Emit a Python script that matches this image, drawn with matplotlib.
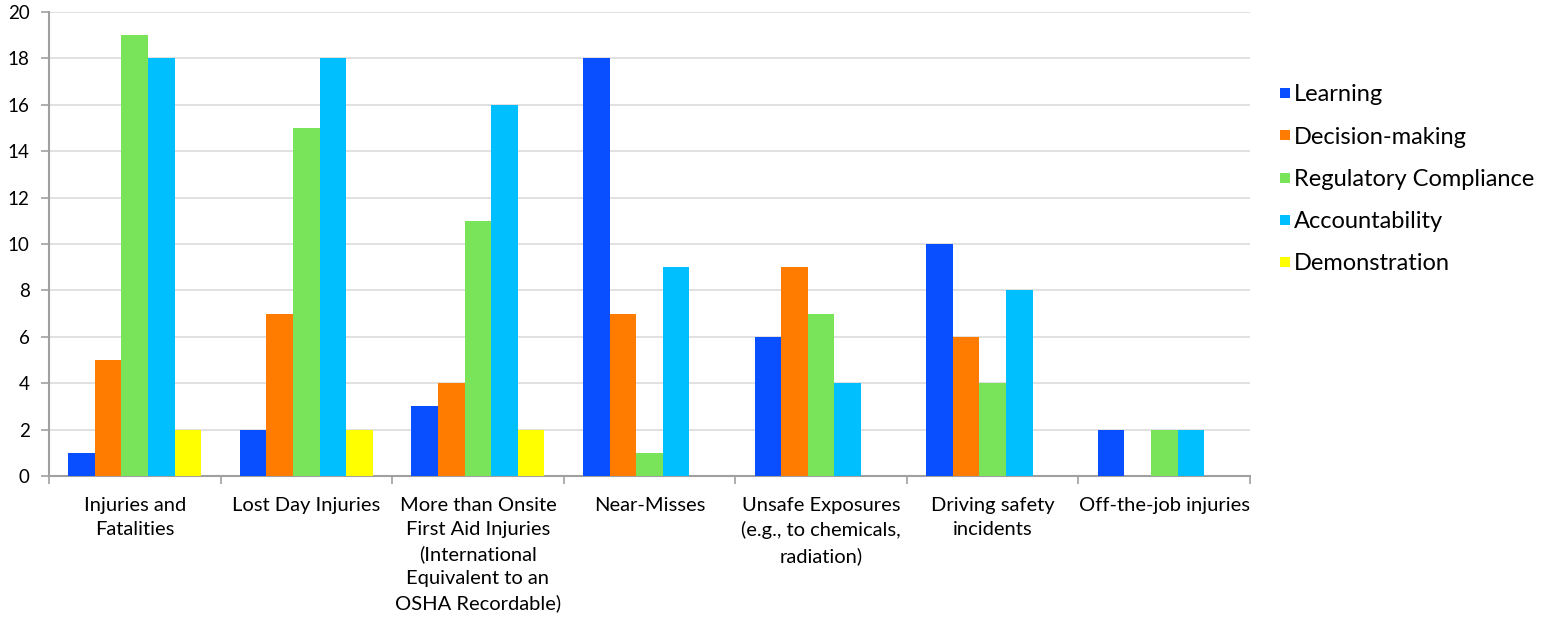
import numpy as np
import matplotlib.pyplot as plt
from matplotlib.lines import Line2D

plt.rcParams['font.family'] = ['Lato', 'DejaVu Sans']

categories = [
    'Injuries and\nFatalities',
    'Lost Day Injuries',
    'More than Onsite\nFirst Aid Injuries\n(International\nEquivalent to an\nOSHA Recordable)',
    'Near-Misses',
    'Unsafe Exposures\n(e.g., to chemicals,\nradiation)',
    'Driving safety\nincidents',
    'Off-the-job injuries',
]
series = ['Learning', 'Decision-making', 'Regulatory Compliance', 'Accountability', 'Demonstration']
learning = [1, 2, 3, 18, 6, 10, 2]
decision = [5, 7, 4, 7, 9, 6, 0]
regulatory = [19, 15, 11, 1, 7, 4, 2]
accountability = [18, 18, 16, 9, 4, 8, 2]
demonstration = [2, 2, 2, 0, 0, 0, 0]
colors = ['#0a4fff', '#ff7c00', '#79e35a', '#00bfff', '#ffff00']

values = [learning, decision, regulatory, accountability, demonstration]

fig = plt.figure(figsize=(15.54, 6.2), dpi=100)
ax = fig.add_axes([49 / 1554, 1 - 476 / 620, 1201 / 1554, 464 / 620])

x = np.arange(len(categories))
w = 0.155
for i, (vals, c) in enumerate(zip(values, colors)):
    ax.bar(x + (i - 2) * w, vals, width=w, color=c, zorder=3)

ax.set_xlim(-0.5, len(categories) - 0.5)
ax.set_ylim(0, 20)
ax.set_yticks(range(0, 21, 2))
ax.grid(axis='y', color='#dcdcdc', linewidth=1.2, zorder=0)

# category boundaries get the tick marks, labels sit in between
ax.set_xticks(np.arange(-0.5, len(categories), 1))
ax.set_xticklabels([])
ax.set_xticks(x, minor=True)
ax.set_xticklabels(categories, minor=True, fontsize=14.5, linespacing=1.5, va='top')
ax.tick_params(axis='x', which='minor', length=0, pad=15)
ax.tick_params(axis='x', which='major', length=6, color='#a0a0a0', width=1.2)
ax.tick_params(axis='y', length=6, color='#a0a0a0', width=1.2, labelsize=13.5, pad=8)

for side in ['top', 'right']:
    ax.spines[side].set_visible(False)
for side in ['left', 'bottom']:
    ax.spines[side].set_color('#a0a0a0')
    ax.spines[side].set_linewidth(1.5)

handles = [Line2D([], [], marker='s', linestyle='none', markersize=7,
                  markerfacecolor=c, markeredgewidth=0) for c in colors]
fig.legend(handles, series, loc='upper left', bbox_to_anchor=(1268 / 1554, 1 - 75 / 620),
           frameon=False, fontsize=17, handlelength=0.6, handletextpad=0.1,
           labelspacing=0.9, borderaxespad=0)

fig.savefig('out.png', dpi=100)
